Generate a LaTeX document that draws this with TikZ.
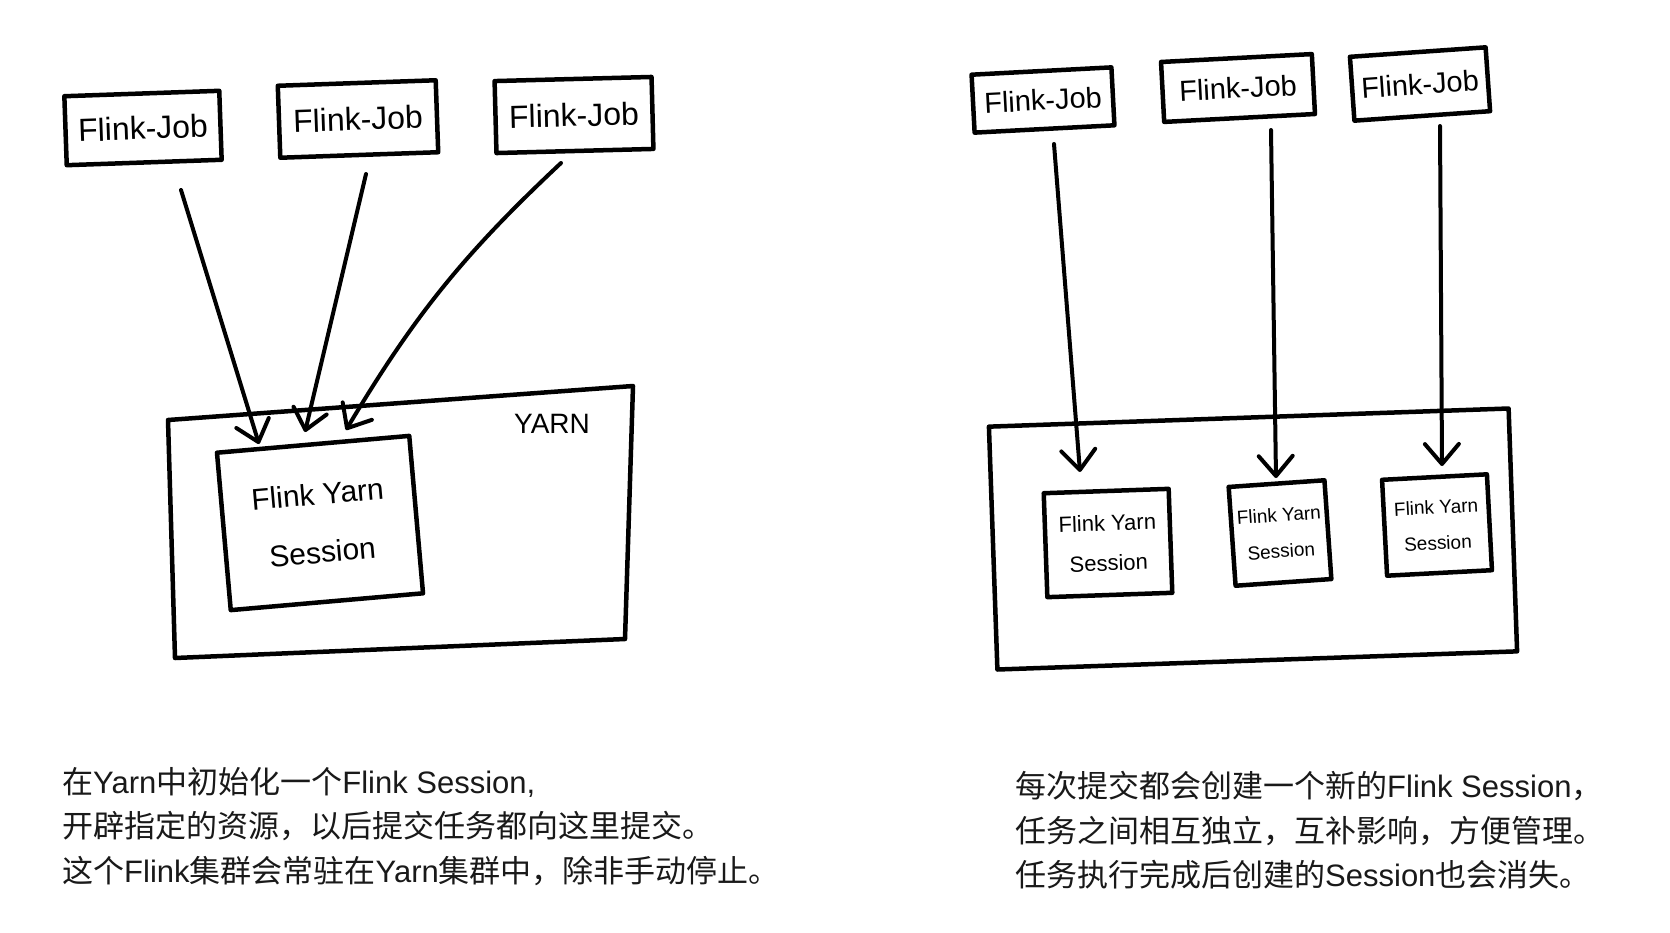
\documentclass[tikz,border=0pt]{standalone}
\usepackage{fontspec}
\setmainfont{Liberation Sans}
\newfontfamily\cjkfont{Noto Sans CJK SC}
\newcommand\zh[1]{{\cjkfont #1}}
\usetikzlibrary{arrows.meta}
\begin{document}
\begin{tikzpicture}[x=1pt,y=-1pt,
  sk/.style={draw=black, line width=4.5pt, line join=round, inner sep=0pt, align=center},
  skline/.style={draw=black, line width=4.5pt, line join=round},
  jobbox/.style={sk, font=\fontsize{32}{36}\selectfont},
  rjob/.style={sk, font=\fontsize{29}{32}\selectfont},
  arr/.style={line width=4pt, line cap=round,
    -{Straight Barb[length=20pt,width=34pt,line join=round,line cap=round]}},
  captext/.style={anchor=base west, inner sep=0pt, text=black!90, font=\fontsize{31}{40}\selectfont}
]
\fill[white] (0,0) rectangle (1670,932);
\useasboundingbox (0,0) rectangle (1670,932);

% ---------- left diagram ----------
\node[jobbox, minimum width=155pt, minimum height=69pt, rotate=2] (j1) at (143,128) {Flink-Job};
\node[jobbox, minimum width=158pt, minimum height=72pt, rotate=2] (j2) at (358,119) {Flink-Job};
\node[jobbox, minimum width=157pt, minimum height=72pt, rotate=1.5] (j3) at (574,115) {Flink-Job};

% YARN container (hand-drawn quadrilateral)
\coordinate (ytl) at (168,420); \coordinate (ytr) at (633,386);
\coordinate (ybr) at (625,639); \coordinate (ybl) at (175,658);
\draw[skline] (ytl) -- (ytr) -- (ybr) -- (ybl) -- cycle;
\node[sk, minimum width=193pt, minimum height=158pt, rotate=5, font=\fontsize{30}{58}\selectfont] (ses) at (320,523) {Flink Yarn\\Session};
\node[font=\fontsize{28}{30}\selectfont] (yl) at (552,424) {YARN};

\coordinate (a1s) at (181,190); \coordinate (a1e) at (259,444);
\coordinate (a2s) at (366,174); \coordinate (a2e) at (305,432);
\coordinate (a3s) at (561,163); \coordinate (a3e) at (346,430);
\draw[arr] (a1s) -- (a1e);
\draw[arr] (a2s) -- (a2e);
\draw[arr] (a3s) to[bend right=8] (a3e);

% ---------- right diagram ----------
\node[rjob, minimum width=140pt, minimum height=58pt, rotate=3] (r1) at (1043,100) {Flink-Job};
\node[rjob, minimum width=151pt, minimum height=60pt, rotate=3] (r2) at (1238,88) {Flink-Job};
\node[rjob, minimum width=136pt, minimum height=64pt, rotate=4] (r3) at (1420,84) {Flink-Job};

\node[sk, minimum width=520pt, minimum height=243pt, rotate=2] (yarn2) at (1253,539) {};
\node[sk, minimum width=125pt, minimum height=104pt, rotate=2, font=\fontsize{22}{40}\selectfont] (s1) at (1108,543) {Flink Yarn\\Session};
\node[sk, minimum width=96pt, minimum height=99pt, rotate=4, font=\fontsize{19}{36}\selectfont] (s2) at (1280,533) {Flink Yarn\\Session};
\node[sk, minimum width=105pt, minimum height=96pt, rotate=3, font=\fontsize{19}{36}\selectfont] (s3) at (1437,525) {Flink Yarn\\Session};

\coordinate (b1s) at (1054,144); \coordinate (b1e) at (1080,472);
\coordinate (b2s) at (1271,130); \coordinate (b2e) at (1276,478);
\coordinate (b3s) at (1440,126); \coordinate (b3e) at (1442,466);
\draw[arr] (b1s) -- (b1e);
\draw[arr] (b2s) -- (b2e);
\draw[arr] (b3s) -- (b3e);

% ---------- captions ----------
\node[captext] (l1) at (62,793) {\zh{在}Yarn\zh{中初始化一个}Flink Session,};
\node[captext] (l2) at (62,837) {\zh{开辟指定的资源，以后提交任务都向这里提交。}};
\node[captext] (l3) at (62,882) {\zh{这个}Flink\zh{集群会常驻在}Yarn\zh{集群中，除非手动停止。}};

\node[captext] (m1) at (1015,797) {\zh{每次提交都会创建一个新的}Flink Session\zh{，}};
\node[captext] (m2) at (1015,842) {\zh{任务之间相互独立，互补影响，方便管理。}};
\node[captext] (m3) at (1015,886) {\zh{任务执行完成后创建的}Session\zh{也会消失。}};
\end{tikzpicture}
\end{document}
